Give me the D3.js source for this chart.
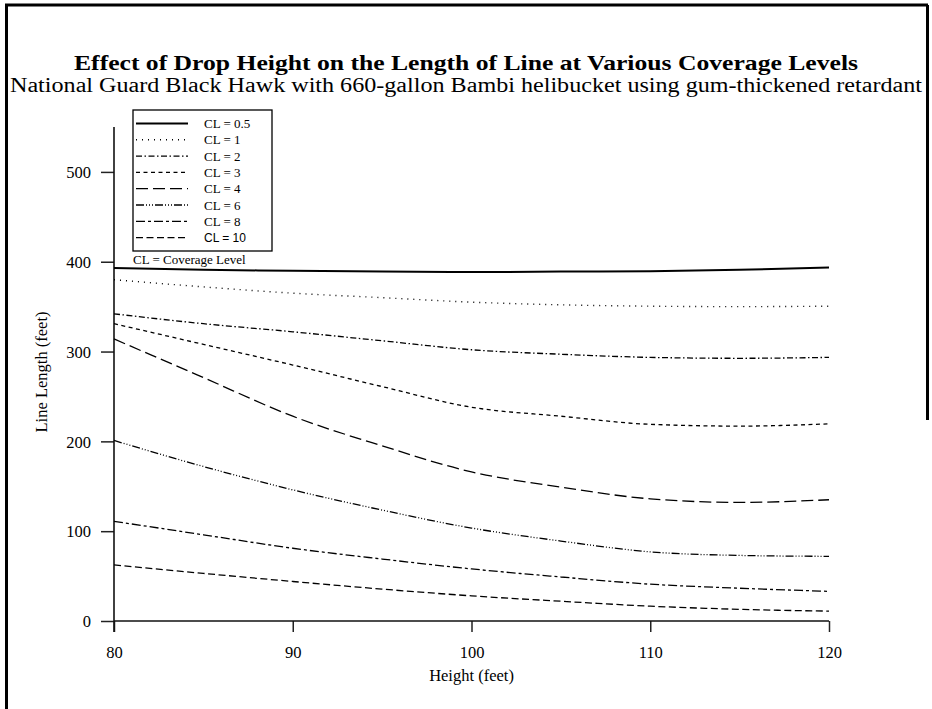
<!DOCTYPE html>
<html>
<head>
<meta charset="utf-8">
<script src="https://cdn.jsdelivr.net/npm/d3@7"></script>
<style>
  html, body { margin: 0; padding: 0; background: #fff; }
  svg { display: block; }
</style>
</head>
<body>
<svg id="chart" width="932" height="709"></svg>
<script>
// Drop heights (feet) at which line length was evaluated
const heights = [80, 85, 90, 95, 100, 105, 110, 115, 120];

// Line length (feet) for each coverage level
const cl05 = [393, 391, 390, 389, 388.5, 389, 389.5, 391, 393.5];
const cl1  = [380, 372, 365, 360, 355, 352, 350.5, 350, 350.5];
const cl2  = [342, 331, 322, 312, 302, 297, 293.5, 292.5, 293.5];
const cl3  = [331, 308, 285, 261, 238, 228, 219, 217, 219.5];
const cl4  = [314, 271, 228, 195, 166, 149, 136, 132, 135];
const cl6  = [201, 172, 146, 123.5, 103.5, 89, 77, 73, 72];
const cl8  = [111, 96, 81, 69, 58, 49, 41, 36.5, 33];
const cl10 = [62.5, 53, 44, 35.5, 28, 22, 16.5, 13, 11];

const seriesLabels = ["CL = 0.5", "CL = 1", "CL = 2", "CL = 3", "CL = 4", "CL = 6", "CL = 8", "CL = 10"];
const seriesValues = [cl05, cl1, cl2, cl3, cl4, cl6, cl8, cl10];

const xTicks = [80, 90, 100, 110, 120];
const yTicks = [0, 100, 200, 300, 400, 500];

// Stroke styles per series
const dashes = ["none", "1,5", "6,2.5,1.5,2.5", "4,3.5", "12,5", "8,2,1,2,1,2,1,2", "9,3,3,3", "7,3.5"];
const widths = [2, 1.4, 1.3, 1.3, 1.3, 1.3, 1.3, 1.3];

const serif = "'Liberation Serif', 'Times New Roman', serif";
const sans = "'Liberation Sans', Arial, sans-serif";

const svg = d3.select("#chart");

// Page frame
svg.append("path")
  .attr("d", "M6.5,709 L6.5,5 L928,5 M927.5,5 L927.5,420")
  .attr("fill", "none").attr("stroke", "#000").attr("stroke-width", 3);

// Titles
svg.append("text")
  .attr("x", 466).attr("y", 70)
  .attr("text-anchor", "middle")
  .attr("font-family", serif).attr("font-weight", "bold").attr("font-size", 22)
  .attr("textLength", 784).attr("lengthAdjust", "spacingAndGlyphs")
  .text("Effect of Drop Height on the Length of Line at Various Coverage Levels");

svg.append("text")
  .attr("x", 466).attr("y", 92)
  .attr("text-anchor", "middle")
  .attr("font-family", serif).attr("font-size", 20)
  .attr("textLength", 912).attr("lengthAdjust", "spacingAndGlyphs")
  .text("National Guard Black Hawk with 660-gallon Bambi helibucket using gum-thickened retardant");

// Scales
const x = d3.scaleLinear().domain([80, 120]).range([114, 829]);
const y = d3.scaleLinear().domain([0, 550]).range([621, 127]);

// Axes
const xAxis = svg.append("g")
  .attr("transform", `translate(0,${y(0)})`)
  .call(d3.axisBottom(x).tickValues(xTicks).tickSize(11).tickPadding(14).tickFormat(d3.format("d")));
const yAxis = svg.append("g")
  .attr("transform", `translate(${x(80)},0)`)
  .call(d3.axisLeft(y).tickValues(yTicks).tickSize(13).tickPadding(10).tickFormat(d3.format("d")));

[xAxis, yAxis].forEach(g => {
  g.select(".domain").remove();
  g.selectAll(".tick line").attr("stroke", "#222").attr("stroke-width", 1.5);
  g.selectAll(".tick text").attr("font-family", serif).attr("font-size", 16.5).attr("fill", "#000");
});
yAxis.selectAll(".tick text").attr("dy", "0.35em");

// Axis lines
svg.append("line")
  .attr("x1", x(80)).attr("x2", x(120)).attr("y1", y(0)).attr("y2", y(0))
  .attr("stroke", "#111").attr("stroke-width", 1.6);
svg.append("line")
  .attr("x1", x(80)).attr("x2", x(80)).attr("y1", y(550)).attr("y2", y(0) + 11)
  .attr("stroke", "#111").attr("stroke-width", 1.6);

// Axis titles
svg.append("text")
  .attr("x", x(100)).attr("y", 681)
  .attr("text-anchor", "middle")
  .attr("font-family", serif).attr("font-size", 16.5)
  .text("Height (feet)");
svg.append("text")
  .attr("transform", "translate(47,372) rotate(-90)")
  .attr("text-anchor", "middle")
  .attr("font-family", serif).attr("font-size", 16.5)
  .text("Line Length (feet)");

// Curves
const line = d3.line()
  .x(d => x(d[0]))
  .y(d => y(d[1]))
  .curve(d3.curveMonotoneX);

seriesValues.forEach((vals, i) => {
  svg.append("path")
    .datum(heights.map((h, j) => [h, vals[j]]))
    .attr("d", line)
    .attr("fill", "none")
    .attr("stroke", "#000")
    .attr("stroke-width", widths[i])
    .attr("stroke-dasharray", dashes[i]);
});

// Legend
const legend = svg.append("g");
legend.append("rect")
  .attr("x", 133).attr("y", 110).attr("width", 139).attr("height", 141)
  .attr("fill", "#fff").attr("stroke", "#000").attr("stroke-width", 1.3);

seriesLabels.forEach((lab, i) => {
  const ry = 123.5 + i * 16.3;
  legend.append("line")
    .attr("x1", 136).attr("x2", 188).attr("y1", ry).attr("y2", ry)
    .attr("stroke", "#000")
    .attr("stroke-width", widths[i])
    .attr("stroke-dasharray", dashes[i]);
  legend.append("text")
    .attr("x", 204).attr("y", ry + 4.5)
    .attr("font-family", i === seriesLabels.length - 1 ? sans : serif)
    .attr("font-size", i === seriesLabels.length - 1 ? 12 : 13)
    .text(lab);
});

svg.append("text")
  .attr("x", 133).attr("y", 264)
  .attr("font-family", serif).attr("font-size", 13)
  .text("CL = Coverage Level");
</script>
</body>
</html>
